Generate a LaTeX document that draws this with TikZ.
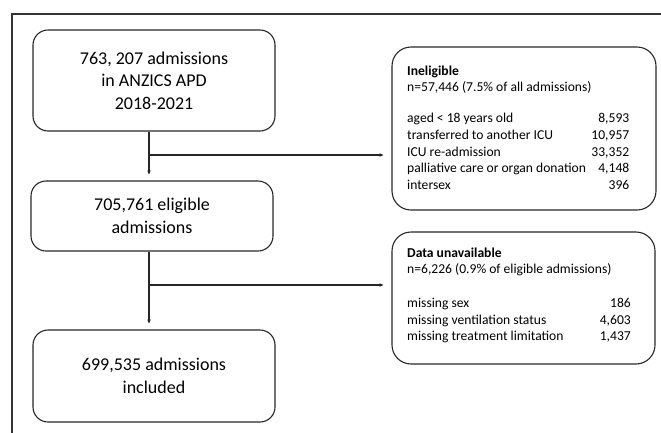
\documentclass[tikz,border=0pt]{standalone}
\usepackage{fontspec}
\setmainfont{Carlito}
\usetikzlibrary{arrows.meta}
\begin{document}
\begin{tikzpicture}[x=1pt,y=-1pt,
  bigbox/.style={draw=black!85, line width=1.1pt, rounded corners=15pt, align=center,
    font=\fontsize{18}{22.5}\selectfont, inner sep=0pt},
  sidebox/.style={draw=black!85, line width=1.1pt, rounded corners=19pt, inner sep=0pt},
  txt/.style={font=\fontsize{13.6}{15}\selectfont, inner sep=0pt, anchor=base west},
  num/.style={font=\fontsize{13.6}{15}\selectfont, inner sep=0pt, anchor=base east},
  conn/.style={line width=1.1pt, draw=black!85},
  arr/.style={conn, -{Stealth[length=4pt,width=3.5pt]}},
]
\useasboundingbox (0,0) rectangle (661,432);
\draw[line width=2.6pt, black!80] (12,433) -- (12,14) -- (662,14);

\node[bigbox, minimum width=242pt, minimum height=101pt] (b1) at (154,80.5)
  {763, 207 admissions\\in ANZICS APD\\2018-2021};
\node[bigbox, minimum width=242pt, minimum height=70pt] (b2) at (152,216)
  {705,761 eligible\\admissions};
\node[bigbox, minimum width=242pt, minimum height=92pt] (b3) at (154,376)
  {699,535 admissions\\included};

\node[sidebox, minimum width=264pt, minimum height=163pt] (ine) at (524,128.5) {};
\node[sidebox, minimum width=263pt, minimum height=132pt] (dat) at (523.5,298) {};

\coordinate (s1) at (149,155);
\coordinate (s2) at (149,285);
\draw[arr, shorten >=6pt] (b1.south -| s1) -- (b2.north -| s1);
\draw[arr, shorten >=6pt] (b2.south -| s2) -- (b3.north -| s2);
\draw[arr, shorten >=8pt] (s1) -- (s1 -| ine.west);
\draw[arr, shorten >=8pt] (s2) -- (s2 -| dat.west);

% Ineligible box text
\node[txt, font=\fontsize{13.6}{15}\selectfont\bfseries] (i0) at (407,75) {Ineligible};
\node[txt] (i1) at (407,91.5) {n=57,446 (7.5\% of all admissions)};
\node[txt] (i2) at (407,122.5) {aged < 18 years old};
\node[txt] (i3) at (407,139.2) {transferred to another ICU};
\node[txt] (i4) at (407,156) {ICU re-admission};
\node[txt] (i5) at (407,172.7) {palliative care or organ donation};
\node[txt] (i6) at (407,189.5) {intersex};
\node[num] (n2) at (629.5,122.5) {8,593};
\node[num] (n3) at (629.5,139.2) {10,957};
\node[num] (n4) at (629.5,156) {33,352};
\node[num] (n5) at (629.5,172.7) {4,148};
\node[num] (n6) at (629.5,189.5) {396};

% Data unavailable box text
\node[txt, font=\fontsize{13.6}{15}\selectfont\bfseries] (d0) at (407,257.5) {Data unavailable};
\node[txt] (d1) at (407,273.5) {n=6,226 (0.9\% of eligible admissions)};
\node[txt] (d2) at (407,307.5) {missing sex};
\node[txt] (d3) at (407,324.2) {missing ventilation status};
\node[txt] (d4) at (407,340.9) {missing treatment limitation};
\node[num] (m2) at (631,307.5) {186};
\node[num] (m3) at (631,324.2) {4,603};
\node[num] (m4) at (631,340.9) {1,437};
\end{tikzpicture}
\end{document}
